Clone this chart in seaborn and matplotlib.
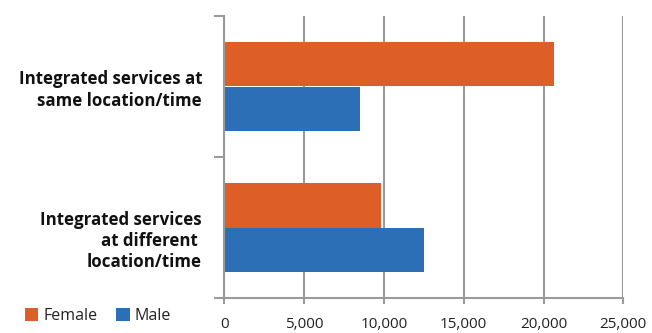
import matplotlib
matplotlib.use("Agg")
import matplotlib.pyplot as plt
from matplotlib.patches import Patch
from matplotlib.ticker import FuncFormatter
from matplotlib.transforms import ScaledTranslation
import seaborn as sns
import pandas as pd

categories = ["Integrated services at\nsame location/time",
              "Integrated services\nat different \nlocation/time"]
series_names = ["Female", "Male"]
female = [20650, 9800]
male = [8500, 12500]
x_ticks = [0, 5000, 10000, 15000, 20000, 25000]

ORANGE = "#DD5E26"
BLUE = "#2D6FB6"
GRID = "#9a9a9a"

sns.set_theme(style="white")
plt.rcParams["font.family"] = ["Open Sans", "DejaVu Sans"]

df = pd.DataFrame({
    "category": categories * 2,
    "sex": [series_names[0]] * len(categories) + [series_names[1]] * len(categories),
    "value": female + male,
})

fig = plt.figure(figsize=(6.52, 3.33), dpi=100)
ax = fig.add_axes([224.3 / 652, 1 - 298 / 333, (623.3 - 224.3) / 652, (298 - 16) / 333])

sns.barplot(data=df, y="category", x="value", hue="sex", orient="h",
            palette=[ORANGE, BLUE], width=0.63, ax=ax, legend=False,
            edgecolor="none", saturation=1)

ax.set_ylim(1.5, -0.5)
ax.set_xlim(0, 25000)
ax.set_xticks(x_ticks)
ax.xaxis.set_major_formatter(FuncFormatter(lambda v, p: f"{int(v):,}"))
ax.set_xlabel("")
ax.set_ylabel("")

ax.grid(axis="x", color=GRID, lw=1.5)
ax.grid(axis="y", visible=False)
ax.set_axisbelow(True)
for s in ["top", "right"]:
    ax.spines[s].set_visible(False)
for s in ["left", "bottom"]:
    ax.spines[s].set_color(GRID)
    ax.spines[s].set_linewidth(1.5)

ax.tick_params(axis="x", which="major", direction="out", length=4, width=1.5,
               color=GRID, labelsize=11, labelcolor="#222222", pad=10, bottom=True)
ax.set_yticks([0, 1])
ax.set_yticklabels(categories, fontweight="bold", fontsize=12.2, color="#111111",
                   linespacing=1.22)
ax.tick_params(axis="y", which="major", length=0, pad=16, left=False)
ax.set_yticks([-0.5, 0.5, 1.5], minor=True)
ax.tick_params(axis="y", which="minor", direction="out", length=7, width=1.5,
               color=GRID, left=True)

# second category label sits a little lower in the reference
lbl = ax.get_yticklabels()[1]
lbl.set_transform(lbl.get_transform() + ScaledTranslation(0, -0.1, fig.dpi_scale_trans))

handles = [Patch(facecolor=ORANGE, edgecolor="none"), Patch(facecolor=BLUE, edgecolor="none")]
fig.legend(handles, series_names, loc="center left", bbox_to_anchor=(0.038, 0.05),
           ncol=2, frameon=False, handlelength=0.85, handleheight=0.85,
           handletextpad=0.3, columnspacing=1.2, borderaxespad=0, borderpad=0,
           fontsize=11.5, labelcolor="#222222")

fig.savefig("out.png", dpi=100)
